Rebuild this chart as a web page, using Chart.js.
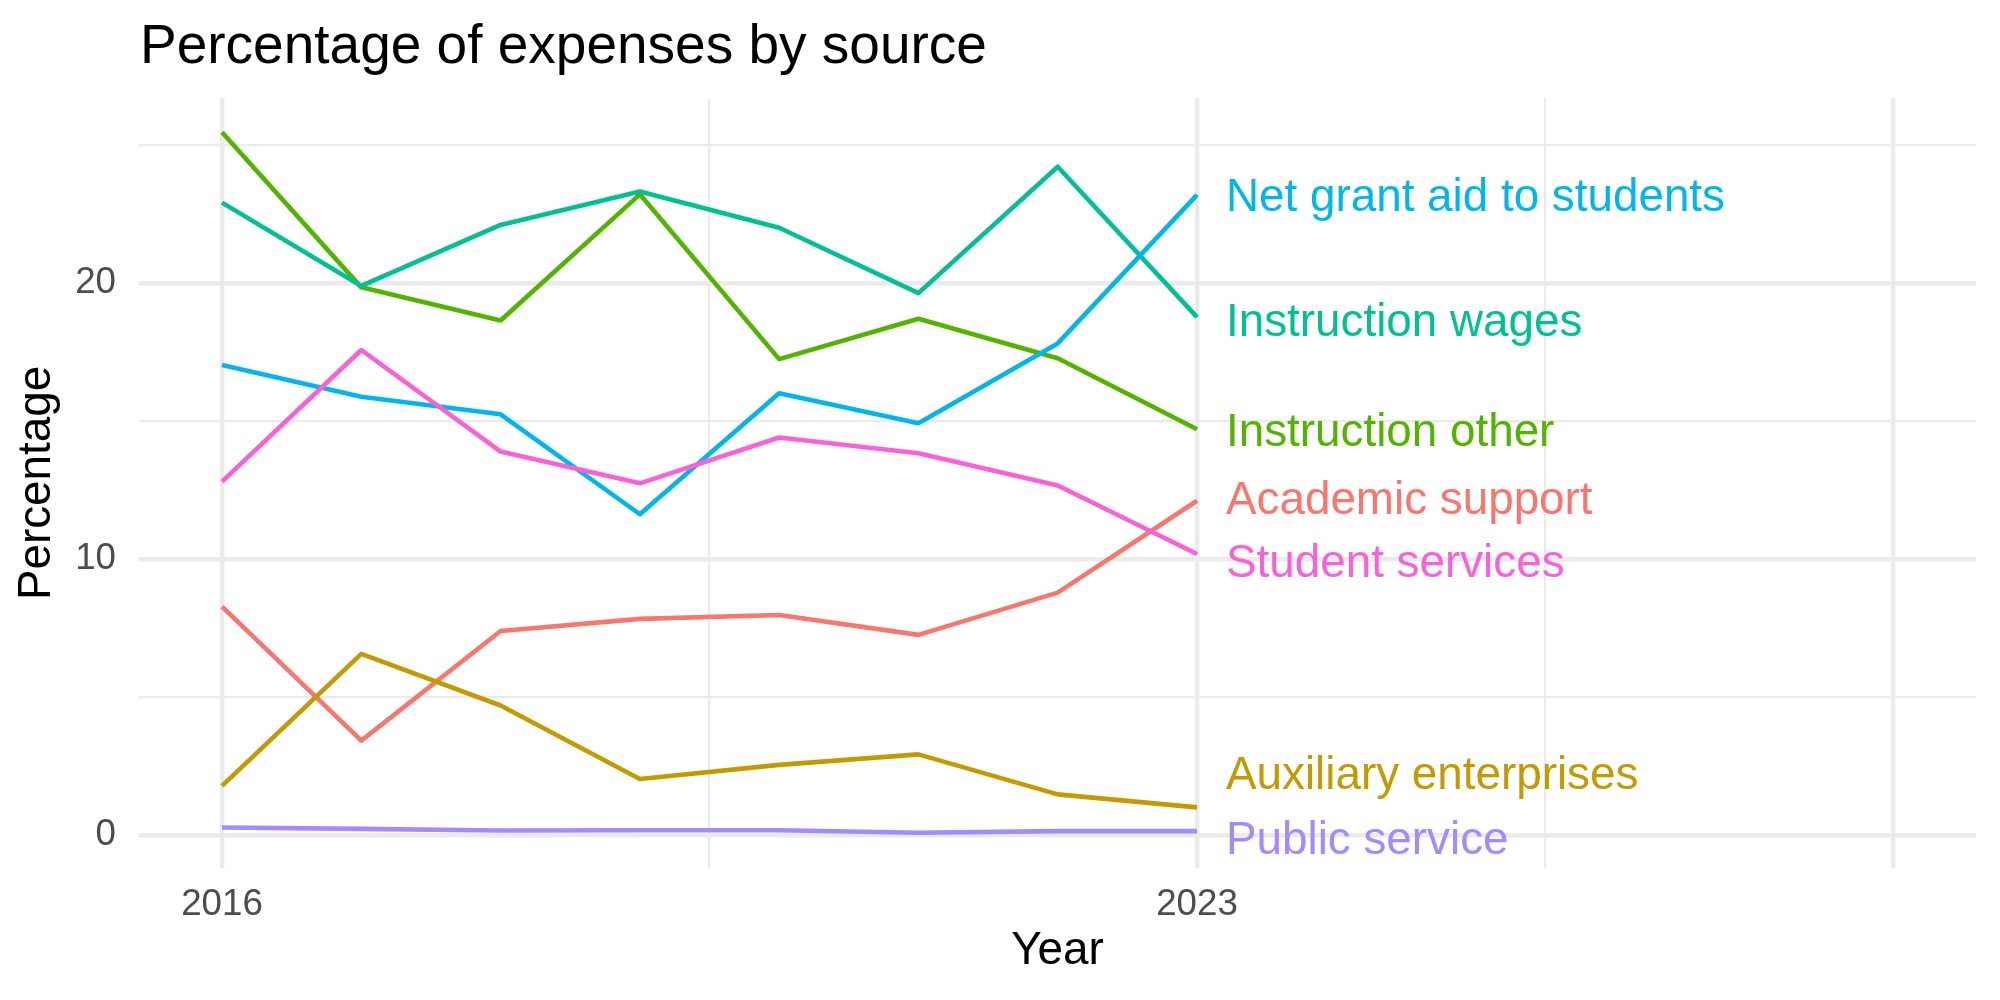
<!DOCTYPE html>
<html>
<head>
<meta charset="utf-8">
<script src="https://cdn.jsdelivr.net/npm/chart.js@4/dist/chart.umd.min.js"></script>
<style>
  body { margin: 0; background: #fff; }
  #wrap { width: 2000px; height: 1000px; }
</style>
</head>
<body>
<div id="wrap"><canvas id="chart" width="2000" height="1000"></canvas></div>
<script>
"use strict"

// data
const years = [2016, 2017, 2018, 2019, 2020, 2021, 2022, 2023];
const seriesNames = ['Academic support', 'Auxiliary enterprises', 'Instruction other',
  'Instruction wages', 'Net grant aid to students', 'Public service', 'Student services'];
const academicSupport = [8.27, 3.42, 7.39, 7.83, 7.97, 7.25, 8.78, 12.11];
const auxiliaryEnterprises = [1.78, 6.56, 4.69, 2.03, 2.54, 2.92, 1.47, 1.00];
const instructionOther = [25.46, 19.84, 18.64, 23.21, 17.24, 18.70, 17.27, 14.70];
const instructionWages = [22.91, 19.89, 22.10, 23.31, 22.00, 19.63, 24.21, 18.76];
const netGrantAid = [17.03, 15.88, 15.24, 11.62, 16.00, 14.92, 17.81, 23.19];
const publicService = [0.27, 0.22, 0.16, 0.17, 0.17, 0.08, 0.14, 0.14];
const studentServices = [12.80, 17.57, 13.89, 12.74, 14.40, 13.83, 12.66, 10.18];
// where each end label sits (value units, after repel)
const labelY = [12.21, 2.25, 14.67, 18.66, 23.19, -0.11, 9.93];
const yTicks = [0, 5, 10, 15, 20, 25];
const yLabels = [0, 10, 20];
const xTicks = [2016, 2019.5, 2023, 2025.5, 2028];
const xLabels = [2016, 2023];

const allValues = [academicSupport, auxiliaryEnterprises, instructionOther,
  instructionWages, netGrantAid, publicService, studentServices];
const colors = ['#F8766D', '#C49A00', '#53B400', '#00C094', '#00B6EB', '#A58AFF', '#FB61D7'];

const FONT = '"Liberation Sans", Arial, Helvetica, sans-serif';

const datasets = allValues.map((vals, i) => ({
  label: seriesNames[i],
  data: years.map((x, j) => ({ x: x, y: vals[j] })),
  borderColor: colors[i],
  backgroundColor: colors[i],
  borderWidth: 4.6,
  borderJoinStyle: 'round',
  pointRadius: 0,
  tension: 0,
  order: -i
}));

// end-of-line labels and the title
const labelPlugin = {
  id: 'endLabels',
  afterDatasetsDraw(chart) {
    const ctx = chart.ctx;
    const xs = chart.scales.x, ys = chart.scales.y;
    ctx.save();
    ctx.font = '45.8px ' + FONT;
    ctx.textBaseline = 'middle';
    ctx.textAlign = 'left';
    seriesNames.forEach((name, i) => {
      ctx.fillStyle = colors[i];
      ctx.fillText(name, xs.getPixelForValue(years[years.length - 1]) + 29, ys.getPixelForValue(labelY[i]) + 3);
    });
    ctx.restore();
  },
  afterDraw(chart) {
    const ctx = chart.ctx;
    ctx.save();
    ctx.font = '55px ' + FONT;
    ctx.fillStyle = '#000';
    ctx.textBaseline = 'alphabetic';
    ctx.fillText('Percentage of expenses by source', chart.chartArea.left + 1, 63);
    ctx.restore();
  }
};

const majorOrMinor = (isMajor) => isMajor ? 4.4 : 2.2;

new Chart(document.getElementById('chart'), {
  type: 'line',
  data: { datasets: datasets },
  plugins: [labelPlugin],
  options: {
    responsive: false,
    animation: false,
    devicePixelRatio: 1,
    layout: { padding: { top: 98, right: 24, bottom: 0, left: 0 } },
    plugins: { legend: { display: false }, tooltip: { enabled: false }, title: { display: false } },
    scales: {
      x: {
        type: 'linear',
        min: 2015.404,
        max: 2028.593,
        afterBuildTicks: (scale) => { scale.ticks = xTicks.map(v => ({ value: v })); },
        afterFit: (scale) => { scale.height = 132; },
        border: { display: false },
        grid: {
          color: '#EBEBEB',
          drawTicks: false,
          lineWidth: (c) => majorOrMinor(c.tick && xTicks.indexOf(c.tick.value) % 2 === 0)
        },
        ticks: {
          padding: 15,
          color: '#4D4D4D',
          font: { family: FONT, size: 36.7, lineHeight: 1.2 },
          maxRotation: 0,
          autoSkip: false,
          callback: (v) => xLabels.includes(v) ? String(v) : ''
        },
        title: {
          display: true,
          text: 'Year',
          color: '#000',
          font: { family: FONT, size: 45.8, lineHeight: 1 },
          padding: { top: 0, bottom: 26 }
        }
      },
      y: {
        type: 'linear',
        min: -1.196,
        max: 26.70,
        afterBuildTicks: (scale) => { scale.ticks = yTicks.map(v => ({ value: v })); },
        afterFit: (scale) => { scale.width = 139; },
        border: { display: false },
        grid: {
          color: '#EBEBEB',
          drawTicks: false,
          lineWidth: (c) => majorOrMinor(c.tick && yLabels.includes(c.tick.value))
        },
        ticks: {
          padding: 23,
          color: '#4D4D4D',
          font: { family: FONT, size: 36.7, lineHeight: 1.2 },
          autoSkip: false,
          callback: (v) => yLabels.includes(v) ? String(v) : ''
        },
        title: {
          display: true,
          text: 'Percentage',
          color: '#000',
          font: { family: FONT, size: 45.8, lineHeight: 1 },
          padding: { top: 14.6, bottom: 0 }
        }
      }
    }
  }
});
</script>
</body>
</html>
